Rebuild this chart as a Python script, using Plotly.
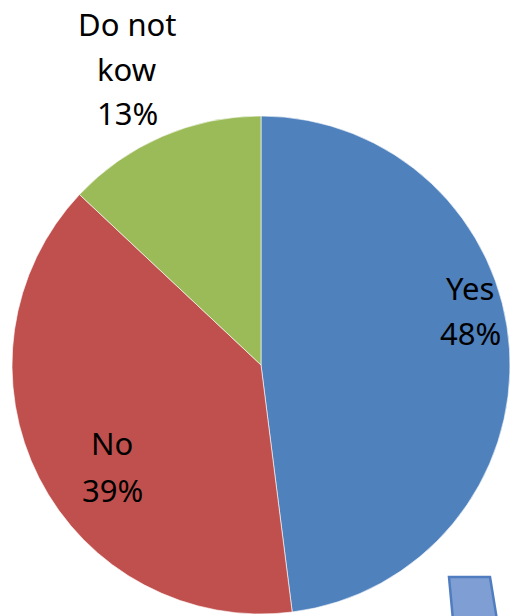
import plotly.graph_objects as go

labels = ["Yes", "No", "Do not kow"]
values = [48, 39, 13]
colors = ["#4F81BD", "#C0504D", "#9BBB59"]
pct_text = ["48%", "39%", "13%"]

W, H = 510, 616

def px(x):
    return x / W

def py(y):
    return 1 - y / H

fig = go.Figure(go.Pie(
    labels=labels,
    values=values,
    sort=False,
    direction="clockwise",
    rotation=0,
    marker=dict(colors=colors, line=dict(color="rgba(255,255,255,0.6)", width=1)),
    textinfo="none",
    hoverinfo="label+percent",
    showlegend=False,
    domain=dict(x=[px(12), 1.0], y=[1 / H, 501 / H]),
))

font = dict(family="Noto Sans", size=31, color="#000000")
label_lines = [
    ("Yes", 470, 288), (pct_text[0], 470, 333),
    ("No", 112, 443), (pct_text[1], 112, 490),
    ("Do not", 127, 24), ("kow", 127, 69), (pct_text[2], 127, 113),
]
annotations = [
    dict(text=t, x=px(x), y=py(y), xref="paper", yref="paper",
         showarrow=False, xanchor="center", yanchor="middle", font=font)
    for t, x, y in label_lines
]

# partially visible block arrow at bottom right
path = ("M {x0},{y0} L {x1},{y1} L {x2},{y2} L {x3},{y3} Z").format(
    x0=px(449), y0=py(577), x1=px(490), y1=py(577),
    x2=px(497), y2=py(620), x3=px(453), y3=py(620))
shapes = [dict(type="path", path=path, xref="paper", yref="paper",
               fillcolor="#7F9ED3", line=dict(color="#4F7DC0", width=2.5))]

fig.update_layout(
    width=W, height=H,
    margin=dict(l=0, r=0, t=0, b=0),
    paper_bgcolor="white",
    plot_bgcolor="white",
    annotations=annotations,
    shapes=shapes,
)

fig.write_html("out.html",
               config={"displayModeBar": False},
               post_script="document.body.style.margin='0';document.body.style.overflow='hidden';")
